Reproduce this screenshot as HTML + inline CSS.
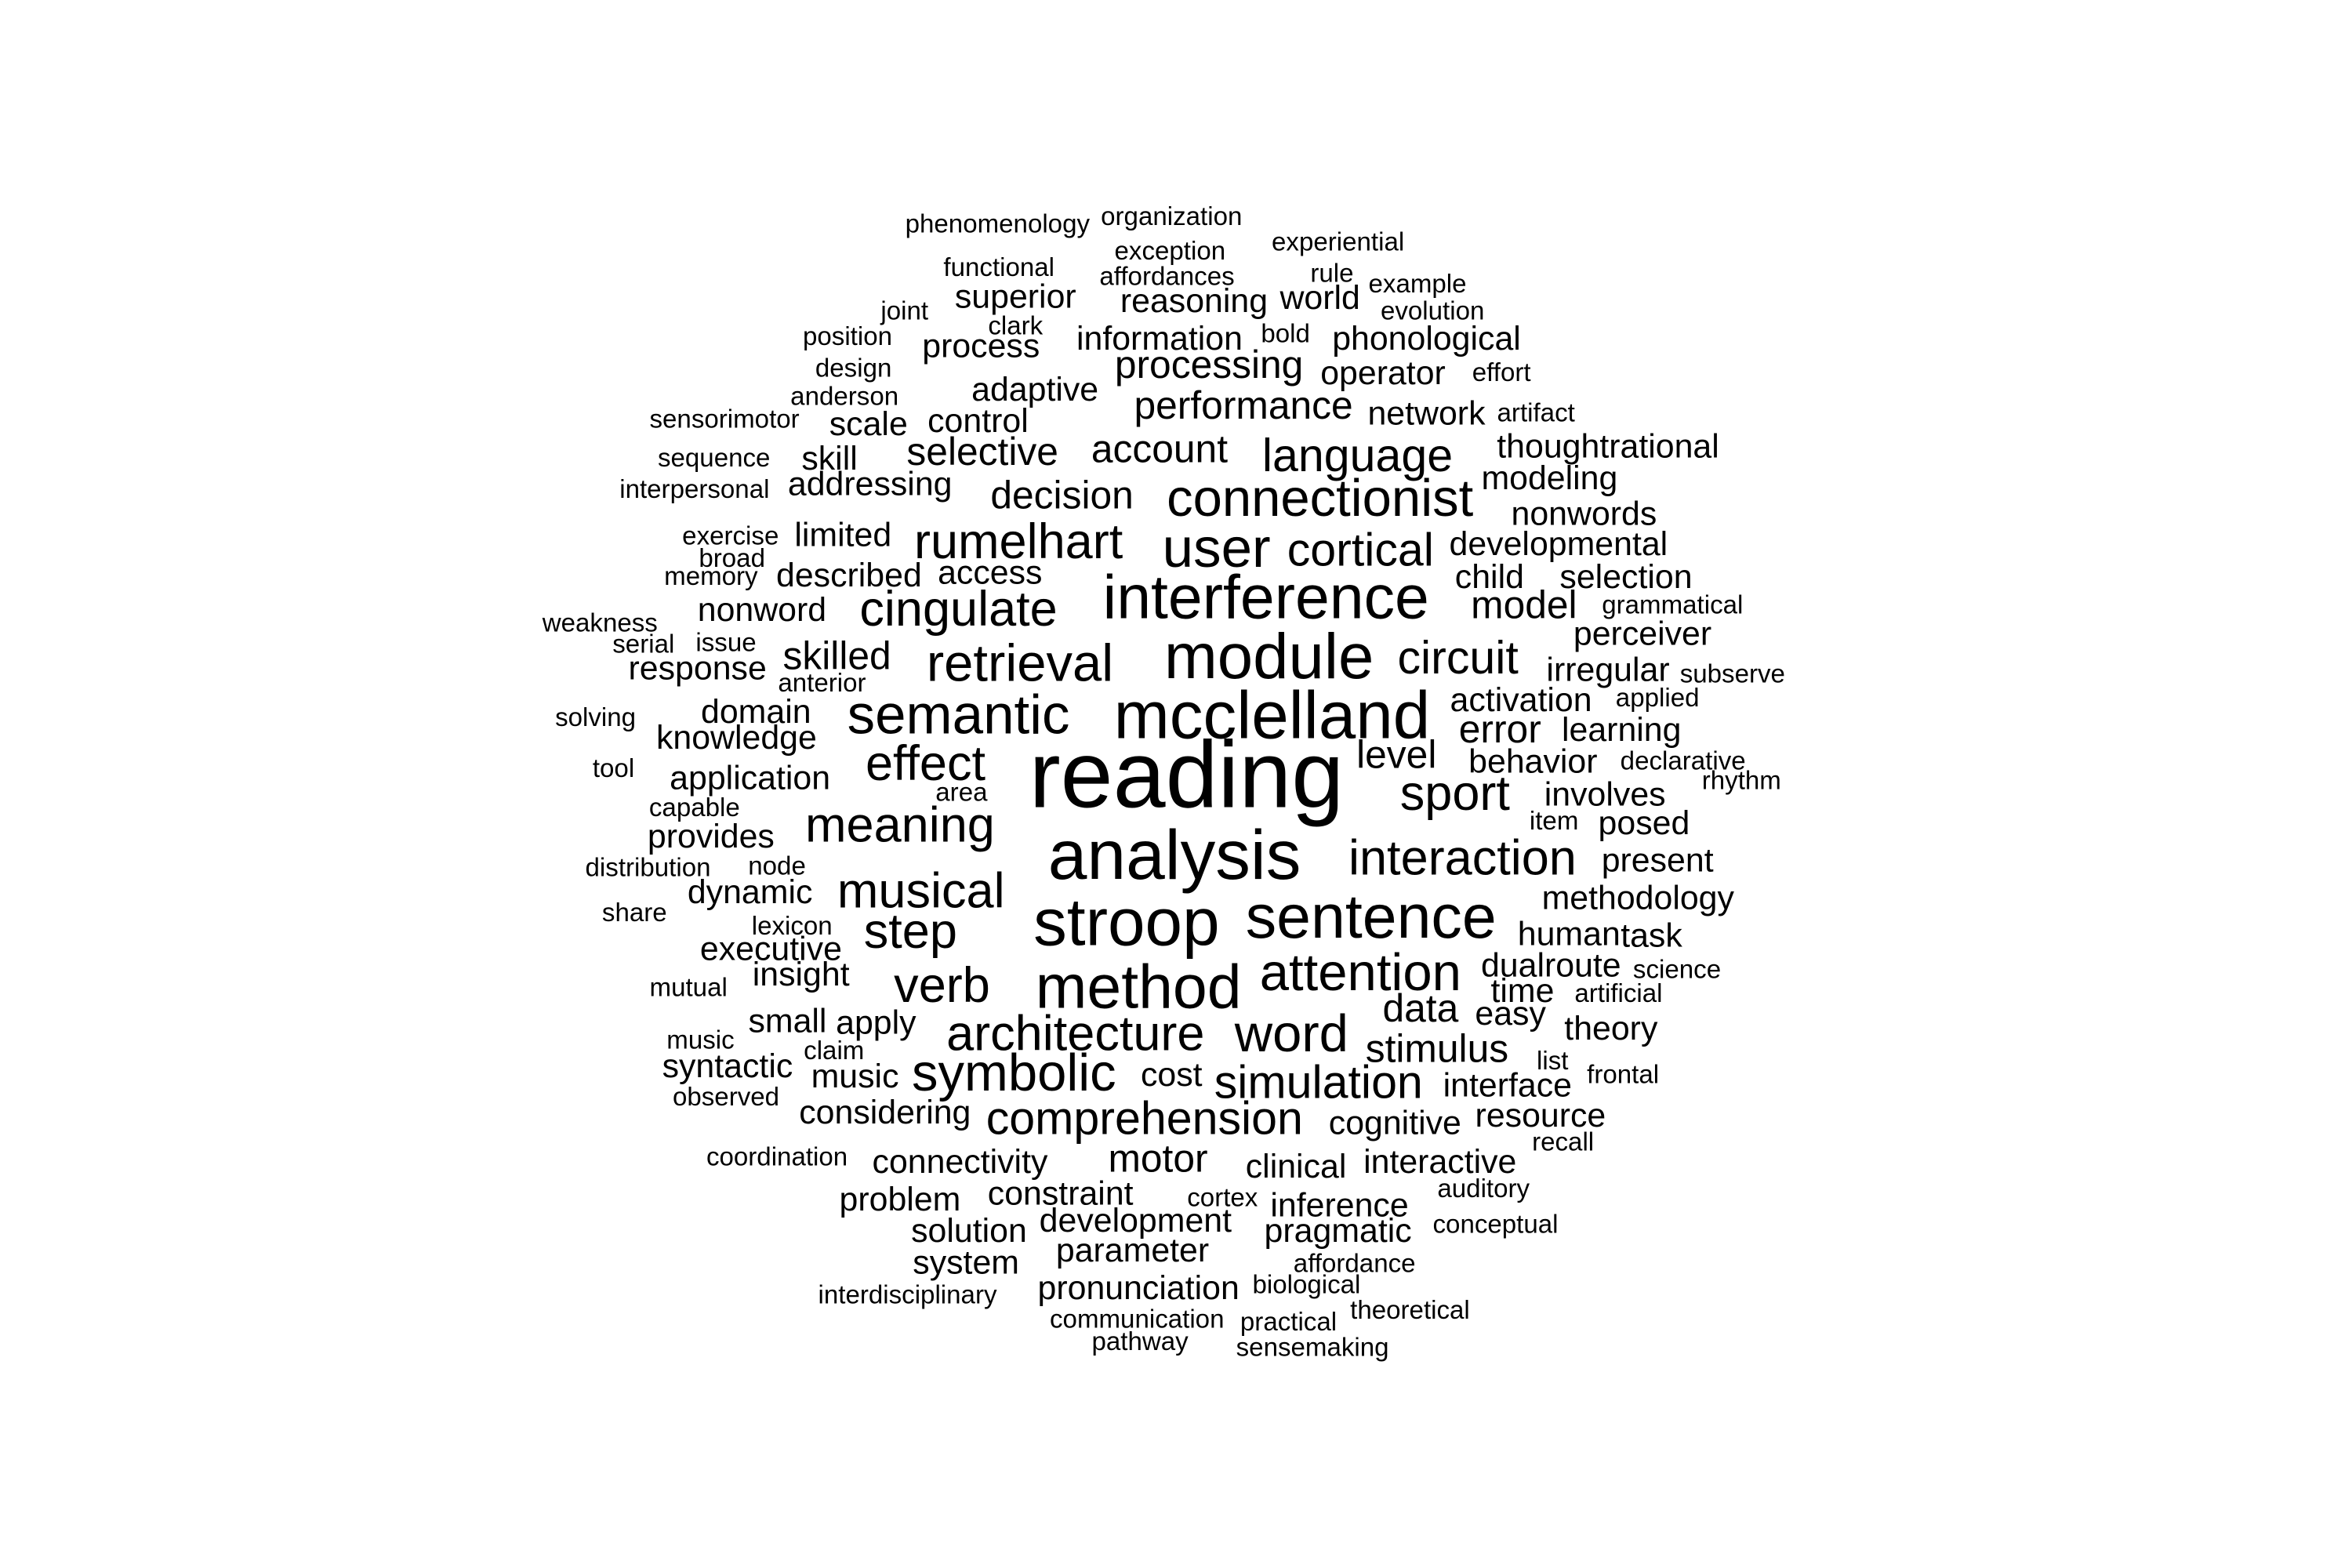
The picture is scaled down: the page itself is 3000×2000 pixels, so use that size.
<!DOCTYPE html>
<html><head><meta charset="utf-8"><style>html,body{margin:0;padding:0;background:#fff}svg{display:block}</style></head>
<body>
<svg id="cloud" width="3000" height="2000" viewBox="0 0 1568 1045.3" xmlns="http://www.w3.org/2000/svg">
<rect width="1568" height="1046" fill="#fff"/>
<g id="words"></g>
</svg>
<script>
const words = [
"phenomenology","organization","exception","experiential","functional","affordances","rule","example","superior","reasoning",
"world","joint","evolution","clark","bold","position","information","phonological","process","design",
"processing","operator","effort","anderson","adaptive","performance","network","artifact","sensorimotor","scale",
"control","thoughtrational","sequence","skill","selective","account","language","modeling","interpersonal","addressing",
"decision","connectionist","nonwords","exercise","limited","rumelhart","user","cortical","developmental","broad",
"memory","described","access","child","selection","interference","cingulate","weakness","model","grammatical",
"nonword","serial","issue","perceiver","module","retrieval","circuit","skilled","response","irregular",
"subserve","anterior","semantic","mcclelland","activation","applied","solving","domain","error","learning",
"knowledge","reading","effect","level","behavior","declarative","rhythm","tool","application","sport",
"involves","area","capable","item","posed","meaning","provides","analysis","interaction","distribution",
"node","present","musical","dynamic","methodology","share","stroop","sentence","lexicon","step",
"executive","human","task","insight","attention","dualroute","science","mutual","verb","method",
"data","time","easy","artificial","small","apply","theory","music","architecture","word",
"claim","stimulus","syntactic","symbolic","list","frontal","music","cost","simulation","interface",
"observed","considering","comprehension","cognitive","resource","recall","coordination","connectivity","motor","clinical",
"interactive","auditory","problem","constraint","cortex","inference","development","pragmatic","solution","conceptual",
"parameter","affordance","system","pronunciation","biological","interdisciplinary","communication","theoretical","practical","pathway",
"sensemaking"];
const sizes = [
16,16,16,16,16,16,16,16,21,21,
21,16,16,16,16,16,21,21,21,16,
24,21,16,16,21,24,21,16,16,21,
21,21,16,21,24,24,30,21,16,21,
24,34,21,16,21,32,36,30,21,16,
16,21,21,21,21,40,32,16,24,16,
21,16,16,21,42,34,30,24,21,21,
16,16,36,44,21,16,16,21,24,21,
21,62,32,24,21,16,16,16,21,32,
21,16,16,16,21,32,21,46,32,16,
16,21,32,21,21,16,44,40,16,32,
21,21,21,21,34,21,16,16,32,40,
24,21,21,16,21,21,21,16,32,34,
16,26,21,34,16,16,21,21,30,21,
16,21,30,21,21,16,16,21,24,21,
21,16,21,21,16,21,21,21,21,16,
21,16,21,21,16,16,16,16,16,16,
16];
const cx = [
665,781,780,892,666,778,888,945,677,796,
880,603,955,677,857,565,773,951,654,569,
806,922,1001,563,690,829,951,1024,483,579,
652,1072,476,553,655,773,905,1033,463,580,
708,880,1056,487,562,679,811,907,1039,488,
474,566,660,993,1084,844,639,400,1016,1115,
508,429,484,1095,846,680,972,558,465,1072,
1155,548,639,848,1014,1105,397,504,1000,1081,
491,791,617,931,1022,1122,1161,409,500,970,
1070,641,463,1036,1096,600,474,783,975,432,
518,1105,614,500,1092,423,751,914,528,607,
514,1046,1101,534,907,1034,1118,459,628,759,
947,1015,1007,1079,525,584,1074,467,717,861,
556,958,485,676,1035,1082,570,781,879,1005,
484,590,763,930,1027,1042,518,640,772,864,
960,989,600,707,815,893,757,892,646,997,
755,903,644,759,871,605,758,940,859,760,
875];
const by = [
155,150,173,167,184,190,188,195,205,208,
206,213,213,223,228,230,233,233,238,251,
252,256,254,270,267,279,283,281,285,290,
288,305,311,313,310,308,314,326,332,330,
339,344,350,363,364,372,378,377,370,378,
390,391,389,392,392,412,417,421,412,409,
414,435,434,430,452,454,449,446,453,454,
455,461,489,492,474,471,484,482,495,494,
499,538,520,512,515,513,526,518,526,540,
537,534,544,553,556,561,565,586,583,584,
583,581,605,602,606,614,630,625,623,632,
640,630,631,657,660,651,652,664,668,672,
681,668,683,668,688,689,693,699,700,701,
706,708,718,727,713,722,725,724,732,731,
737,749,756,756,751,767,777,782,781,785,
782,798,807,803,804,811,821,828,828,822,
841,848,849,866,862,869,885,879,887,900,
904];
const g = document.getElementById('words');
const NS = 'http://www.w3.org/2000/svg';
for (let i = 0; i < words.length; i++) {
  const t = document.createElementNS(NS, 'text');
  
  
  let fs;
  if (sizes[i] <= 16) fs = 17.3;
  else if (sizes[i] <= 21) fs = 22.4;
  else if (sizes[i] <= 26) fs = 26;
  else if (sizes[i] <= 40) fs = sizes[i] * 1.03;
  else fs = sizes[i] * 1.015;
  t.setAttribute('x', cx[i]);
  t.setAttribute('y', by[i]);
  t.setAttribute('text-anchor', 'middle');
  t.setAttribute('font-family', 'Liberation Sans, Arial, sans-serif');
  t.setAttribute('font-size', fs);
  t.setAttribute('fill', '#000');
  t.textContent = words[i];
  g.appendChild(t);
}
</script>
</body></html>
